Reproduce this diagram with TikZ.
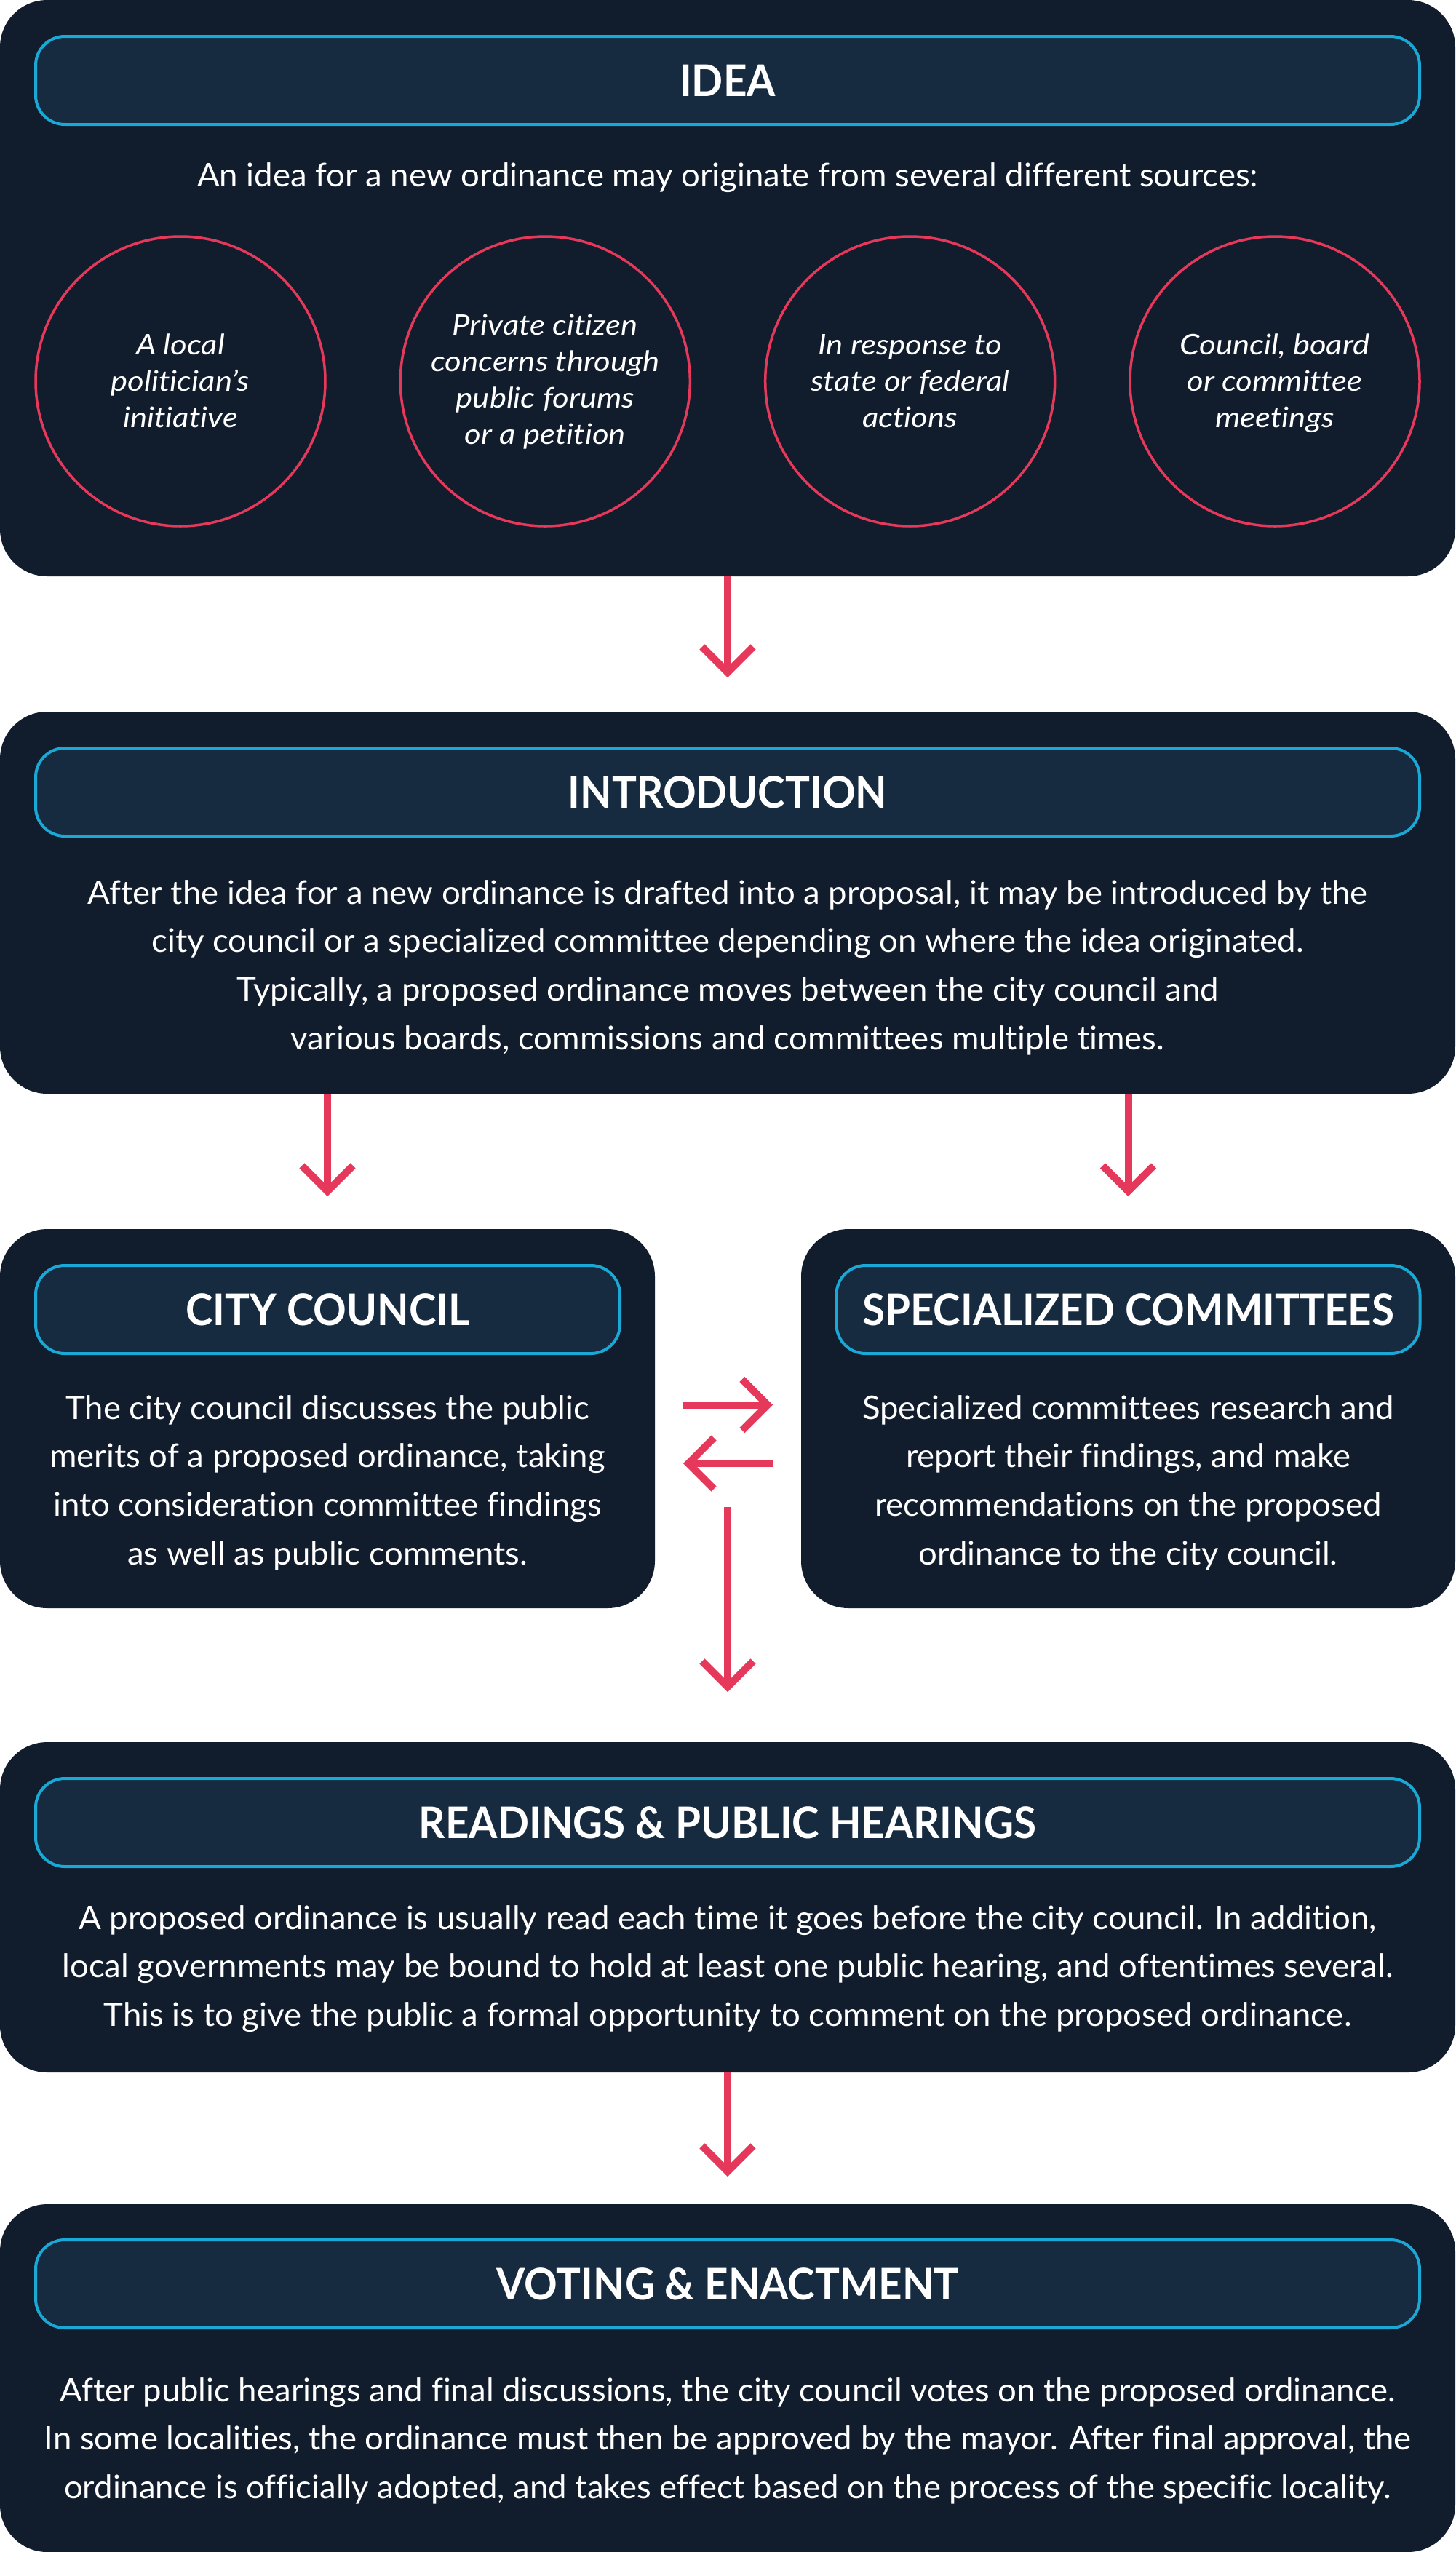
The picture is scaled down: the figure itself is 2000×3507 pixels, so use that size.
\documentclass[tikz,border=0pt]{standalone}
\usepackage{fontspec}
\setmainfont{Lato}[Ligatures=NoCommon]
\usetikzlibrary{arrows.meta}
\definecolor{navy}{HTML}{111C2C}
\definecolor{hdrfill}{HTML}{172B40}
\definecolor{cyanb}{HTML}{1AA8D6}
\definecolor{redc}{HTML}{E5385A}
\newlength\calw
\newcommand\bodyfnt{\fontsize{44.66pt}{66.7pt}\selectfont}
\newcommand\titlefnt{\fontsize{60pt}{70pt}\selectfont\bfseries}
\newcommand\itfnt{\fontsize{39pt}{50pt}\selectfont\itshape}
\newcommand\blines[2]{\scalebox{#1}[1]{\begin{tabular}[t]{@{}c@{}}#2\end{tabular}}}
\AtBeginDocument{%
\settowidth\calw{\bodyfnt An idea for a new ordinance may originate from several different sources:}%
\pgfmathsetmacro\sxb{1458/\calw}%
\settowidth\calw{\titlefnt SPECIALIZED COMMITTEES}%
\pgfmathsetmacro\sxt{731/\calw}%
\settowidth\calw{\itfnt concerns through}%
\pgfmathsetmacro\sxi{314/\calw}%
}
\tikzset{
 outerbox/.style={rectangle, rounded corners=65pt, fill=navy, inner sep=0pt, outer sep=0pt},
 hdrbox/.style={rectangle, rounded corners=40pt, fill=hdrfill, draw=cyanb, line width=4pt, inner sep=0pt, outer sep=0pt, minimum height=121pt},
 srcircle/.style={circle, draw=redc, line width=3.5pt, minimum size=398pt, inner sep=0pt},
 ttl/.style={anchor=base, text=white, font=\titlefnt, inner sep=0pt},
 bodytxt/.style={anchor=base, text=white, font=\bodyfnt, inner sep=0pt},
 ittxt/.style={anchor=base, text=white, font=\itfnt, inner sep=0pt},
 flow/.style={draw=redc, line width=10pt, -{Straight Barb[length=35pt,width=70pt]}},
}
\begin{document}
\begin{tikzpicture}[x=1pt,y=-1pt]
\fill[white] (0,0) rectangle (2000,3507);
\useasboundingbox (0,0) rectangle (2000,3507);
% outer boxes
\node[outerbox, minimum width=2000pt, minimum height=792pt] (idea) at (1000,396) {};
\node[outerbox, minimum width=2000pt, minimum height=525pt] (intro) at (1000,1240.5) {};
\node[outerbox, minimum width=900pt, minimum height=521pt] (city) at (450,1949.5) {};
\node[outerbox, minimum width=899pt, minimum height=521pt] (spec) at (1550.5,1949.5) {};
\node[outerbox, minimum width=2000pt, minimum height=454pt] (read) at (1000,2621) {};
\node[outerbox, minimum width=2000pt, minimum height=478pt] (vote) at (1000,3268) {};
% headers
\node[hdrbox, minimum width=1902pt] (ideah) at (1000,110.5) {};
\node[hdrbox, minimum width=1902pt] (introh) at (1000,1088.5) {};
\node[hdrbox, minimum width=803pt] (cityh) at (450.5,1799.5) {};
\node[hdrbox, minimum width=802pt] (spech) at (1550.5,1799.5) {};
\node[hdrbox, minimum width=1902pt] (readh) at (1000,2504.5) {};
\node[hdrbox, minimum width=1902pt] (voteh) at (1000,3138.5) {};
% titles
\node[ttl] (ideat) at (1000,132) {\scalebox{\sxt}[1]{IDEA}};
\node[ttl] (introt) at (1000,1110) {\scalebox{\sxt}[1]{INTRODUCTION}};
\node[ttl] (cityt) at (450.5,1821) {\scalebox{\sxt}[1]{CITY COUNCIL}};
\node[ttl] (spect) at (1550.5,1821) {\scalebox{\sxt}[1]{SPECIALIZED COMMITTEES}};
\node[ttl] (readt) at (1000,2526) {\scalebox{\sxt}[1]{READINGS \& PUBLIC HEARINGS}};
\node[ttl] (votet) at (1000,3160) {\scalebox{\sxt}[1]{VOTING \& ENACTMENT}};
% idea content
\node[bodytxt] (ideasub) at (1000,256) {\blines{\sxb}{An idea for a new ordinance may originate from several different sources:}};
\node[srcircle] (c1) at (248,524) {};
\node[srcircle] (c2) at (749.3,524) {};
\node[srcircle] (c3) at (1250.7,524) {};
\node[srcircle] (c4) at (1752,524) {};
\node[ittxt] (c1t) at (248,487.5) {\blines{\sxi}{A local\\politician’s\\initiative}};
\node[ittxt] (c2t) at (749.3,460) {\blines{\sxi}{Private citizen\\concerns through\\public forums\\or a petition}};
\node[ittxt] (c3t) at (1250.7,487.5) {\blines{\sxi}{In response to\\state or federal\\actions}};
\node[ittxt] (c4t) at (1752,487.5) {\blines{\sxi}{Council, board\\or committee\\meetings}};
% body texts
\node[bodytxt] (introx) at (1000,1242) {\blines{\sxb}{After the idea for a new ordinance is drafted into a proposal, it may be introduced by the\\city council or a specialized committee depending on where the idea originated.\\Typically, a proposed ordinance moves between the city council and\\various boards, commissions and committees multiple times.}};
\node[bodytxt] (cityx) at (450,1950) {\blines{\sxb}{The city council discusses the public\\merits of a proposed ordinance, taking\\into consideration committee findings\\as well as public comments.}};
\node[bodytxt] (specx) at (1550.5,1950) {\blines{\sxb}{Specialized committees research and\\report their findings, and make\\recommendations on the proposed\\ordinance to the city council.}};
\node[bodytxt] (readx) at (1000,2651) {\blines{\sxb}{A proposed ordinance is usually read each time it goes before the city council. In addition,\\local governments may be bound to hold at least one public hearing, and oftentimes several.\\This is to give the public a formal opportunity to comment on the proposed ordinance.}};
\node[bodytxt] (votex) at (1000,3300) {\blines{\sxb}{After public hearings and final discussions, the city council votes on the proposed ordinance.\\In some localities, the ordinance must then be approved by the mayor. After final approval, the\\ordinance is officially adopted, and takes effect based on the process of the specific locality.}};
% arrows
\coordinate (dstart) at (1000,2071);
\draw[flow, shorten >=47pt] (idea.south) -- (intro.north);
\draw[flow, shorten >=45pt] (intro.south -| city.north) -- (city.north);
\draw[flow, shorten >=45pt] (intro.south -| spec.north) -- (spec.north);
\draw[flow, shorten <=39pt, shorten >=39pt] ([yshift=19pt]city.east) -- ([yshift=19pt]spec.west);
\draw[flow, shorten <=39pt, shorten >=39pt] ([yshift=-61.5pt]spec.west) -- ([yshift=-61.5pt]city.east);
\draw[flow, shorten >=69pt] (dstart) -- (read.north);
\draw[flow, shorten >=38pt] (read.south) -- (vote.north);
\end{tikzpicture}
\end{document}
